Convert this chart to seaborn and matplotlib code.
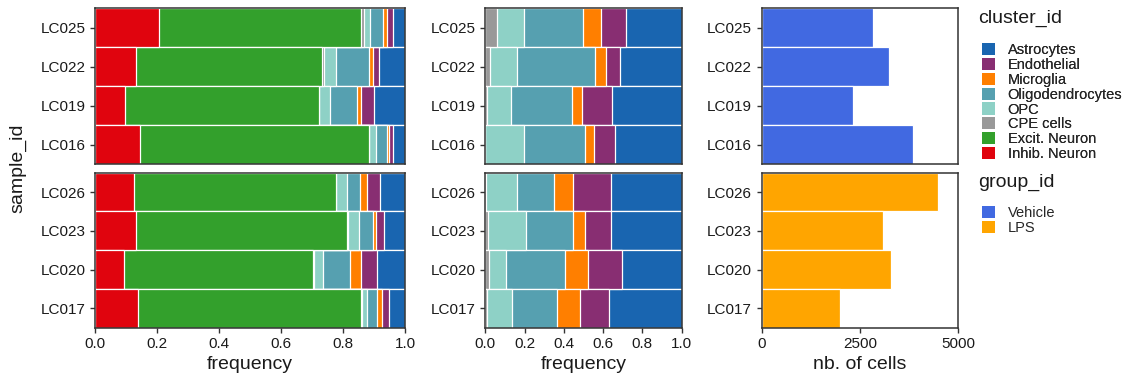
import numpy as np
import pandas as pd
import matplotlib
matplotlib.use("Agg")
import matplotlib.pyplot as plt
from matplotlib.patches import Patch
import seaborn as sns

# samples, Vehicle first then LPS
sample_id = ["LC016", "LC019", "LC022", "LC025", "LC017", "LC020", "LC023", "LC026"]
group_id = ["Vehicle"] * 4 + ["LPS"] * 4
n_cells = [3856, 2314, 3237, 2822, 1992, 3280, 3076, 4483]

# neuron fractions of all cells
inhib_frac = [0.143, 0.097, 0.133, 0.205, 0.138, 0.094, 0.132, 0.126]
excit_frac = [0.741, 0.624, 0.600, 0.653, 0.721, 0.608, 0.681, 0.651]

# composition of the non-neuronal cells
cpe_frac = [0.000, 0.008, 0.025, 0.058, 0.007, 0.017, 0.015, 0.005]
opc_frac = [0.195, 0.123, 0.135, 0.137, 0.131, 0.090, 0.190, 0.158]
oligo_frac = [0.314, 0.309, 0.399, 0.304, 0.225, 0.300, 0.242, 0.185]
micro_frac = [0.044, 0.051, 0.054, 0.092, 0.119, 0.114, 0.059, 0.100]
endo_frac = [0.109, 0.154, 0.073, 0.126, 0.148, 0.175, 0.134, 0.190]
astro_frac = [0.338, 0.355, 0.314, 0.283, 0.370, 0.304, 0.360, 0.362]

cluster_ids = ["Astrocytes", "Endothelial", "Microglia", "Oligodendrocytes",
               "OPC", "CPE cells", "Excit. Neuron", "Inhib. Neuron"]
cluster_cols = ["#1965B0", "#882E72", "#FF7F00", "#56A0B0",
                "#8ED1C6", "#999999", "#33A02C", "#E0040E"]
group_ids = ["Vehicle", "LPS"]
group_cols = ["royalblue", "orange"]
pal = dict(zip(cluster_ids, cluster_cols))
gpal = dict(zip(group_ids, group_cols))

# build cell counts per cluster
df = pd.DataFrame({"sample_id": sample_id, "group_id": group_id, "n": n_cells})
n = np.array(n_cells, dtype=float)
rest = 1 - np.array(inhib_frac) - np.array(excit_frac)
df["Inhib. Neuron"] = n * np.array(inhib_frac)
df["Excit. Neuron"] = n * np.array(excit_frac)
glia = {"CPE cells": cpe_frac, "OPC": opc_frac, "Oligodendrocytes": oligo_frac,
        "Microglia": micro_frac, "Endothelial": endo_frac, "Astrocytes": astro_frac}
glia_sum = np.sum([np.array(x) for x in glia.values()], axis=0)
for k, v in glia.items():
    df[k] = n * rest * np.array(v) / glia_sum

all_cl = cluster_ids[::-1]          # left -> right in the bars
glia_cl = all_cl[2:]

sns.set_theme(style="ticks")
plt.rcParams["font.family"] = ["Liberation Sans", "DejaVu Sans"]

fig = plt.figure(figsize=(11.36, 3.81), dpi=100)
W, H = 1136, 381
def add_ax(x0, x1, y0, y1):
    return fig.add_axes([x0 / W, 1 - y1 / H, (x1 - x0) / W, (y1 - y0) / H])

cols_x = [(95.3, 405), (485.3, 681.7), (761.7, 958.3)]
rows_y = [(8.3, 164.3), (172.7, 327.7)]


def stacked(ax, sub, clusters, order):
    freq = sub[clusters].div(sub[clusters].sum(axis=1), axis=0)
    cum = freq.cumsum(axis=1)
    for cl in reversed(clusters):
        sns.barplot(x=cum[cl].values, y=sub["sample_id"].values, order=order,
                    color=pal[cl], saturation=1, width=1, orient="h",
                    edgecolor="white", linewidth=0.9, errorbar=None, ax=ax)
    ax.set_xlim(0, 1)


for r, grp in enumerate(group_ids):
    sub = df[df["group_id"] == grp]
    order = list(sub["sample_id"])[::-1]
    axs = [add_ax(*cols_x[c], *rows_y[r]) for c in range(3)]
    stacked(axs[0], sub, all_cl, order)
    stacked(axs[1], sub, glia_cl, order)
    sns.barplot(x=sub["n"].values, y=sub["sample_id"].values, order=order,
                color=gpal[grp], saturation=1, width=1, orient="h",
                edgecolor="white", linewidth=0.9, errorbar=None, ax=axs[2])
    axs[2].set_xlim(0, 5000)
    axs[2].set_xticks([0, 2500, 5000])
    for c, ax in enumerate(axs):
        ax.set_ylim(3.5, -0.5)
        ax.set_xlabel("")
        ax.set_ylabel("")
        for s in ax.spines.values():
            s.set_visible(True)
            s.set_color("#333333")
            s.set_linewidth(1.1)
        ax.tick_params(colors="#333333", labelcolor="#1A1A1A", labelsize=11,
                       length=3.5, width=1)
        if c < 2:
            ax.set_xticks([0, 0.2, 0.4, 0.6, 0.8, 1.0])
            ax.set_xticklabels(["0.0", "0.2", "0.4", "0.6", "0.8", "1.0"])
        if r == 0:
            ax.tick_params(axis="x", bottom=False, labelbottom=False)
        else:
            ax.set_xlabel(["frequency", "frequency", "nb. of cells"][c],
                          fontsize=14, color="#1A1A1A", labelpad=3)

fig.text(18 / W, 1 - 168 / H, "sample_id", rotation=90, fontsize=14,
         color="#1A1A1A", ha="center", va="center")

# legends: titles as text, keys below with a gap like ggplot
fig.text(978 / W, 1 - 18 / H, "cluster_id", fontsize=14, color="#1A1A1A",
         ha="left", va="center")
fig.text(978 / W, 1 - 182 / H, "group_id", fontsize=14, color="#1A1A1A",
         ha="left", va="center")
h1 = [Patch(facecolor=pal[c], edgecolor="none") for c in cluster_ids]
leg1 = fig.legend(h1, cluster_ids, loc="upper left",
                  bbox_to_anchor=(972 / W, 1 - 33 / H), frameon=False,
                  fontsize=10.5, handlelength=0.9, borderpad=0.2,
                  handleheight=0.9, labelspacing=0.05, handletextpad=0.85)
h2 = [Patch(facecolor=gpal[g], edgecolor="none") for g in group_ids]
leg2 = fig.legend(h2, group_ids, loc="upper left",
                  bbox_to_anchor=(972 / W, 1 - 196 / H), frameon=False,
                  fontsize=10.5, handlelength=0.9, borderpad=0.2,
                  handleheight=0.9, labelspacing=0.05, handletextpad=0.85)
fig.add_artist(leg1)

fig.savefig("out.png", dpi=100)
